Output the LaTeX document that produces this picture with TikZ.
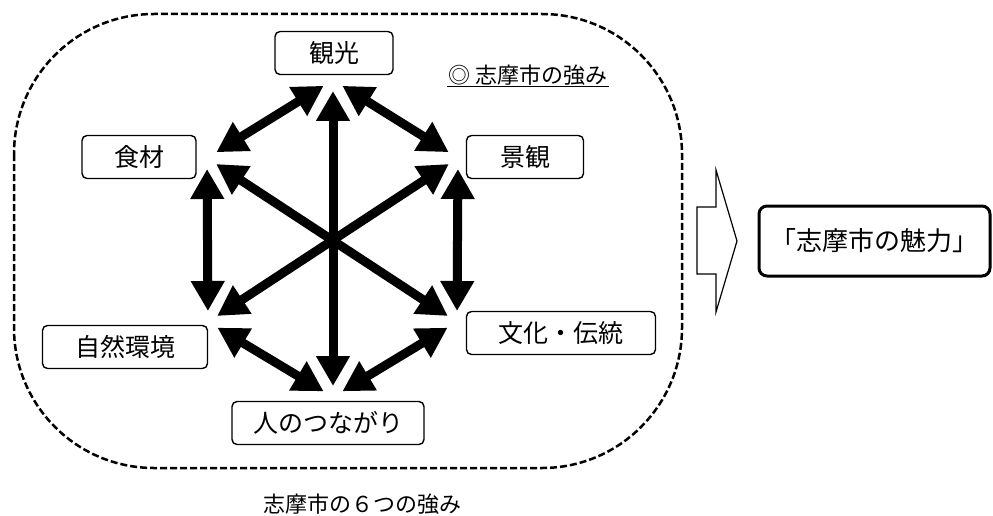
\documentclass[tikz,border=0pt]{standalone}
\usepackage{fontspec}
\setmainfont{Noto Sans CJK JP}
\usetikzlibrary{arrows.meta}
\begin{document}
\begin{tikzpicture}[x=1pt,y=-1pt,
  lbl/.style={draw, line width=1.4pt, rounded corners=5pt, font=\fontsize{25}{27}\selectfont, inner sep=0pt, minimum height=43pt},
  link/.style={line width=9pt, {Triangle[length=30pt,width=32pt]}-{Triangle[length=30pt,width=32pt]}, shorten <=11pt, shorten >=11pt},
  frame/.style={line width=2.5pt, dash pattern=on 7pt off 3pt, rounded corners=140pt},
  result/.style={draw, line width=3pt, rounded corners=8pt, font=\fontsize{26}{28}\selectfont, inner sep=0pt, minimum width=231pt, minimum height=70pt},
  blockarrow/.style={draw, line width=1.2pt, line join=miter}]
\useasboundingbox (0,0) rectangle (993,516);
% dashed frame
\draw[frame] (14,14) rectangle (682,468);
% labels
\node[lbl, minimum width=118pt] (kanko) at (334,53) {観光};
\node[lbl, minimum width=114pt] (shokuzai) at (139,157) {食材};
\node[lbl, minimum width=117pt] (keikan) at (525,157) {景観};
\node[lbl, minimum width=165pt] (shizen) at (125,347) {自然環境};
\node[lbl, minimum width=189pt] (bunka) at (561,333) {文化・伝統};
\node[lbl, minimum width=192pt] (hito) at (328,423) {人のつながり};
% title
\node[font=\fontsize{22}{24}\selectfont, inner sep=1pt] (title) at (528,75) {◎\ 志摩市の強み};
\draw[line width=1pt] (title.south west) -- (title.south east);
% hexagon vertices
\coordinate (T) at (333,80);
\coordinate (UL) at (207,158);
\coordinate (UR) at (458,158);
\coordinate (LL) at (208,322);
\coordinate (LR) at (457,322);
\coordinate (B) at (333,397);
% arrows
\draw[link] (T) -- (UL);
\draw[link] (T) -- (UR);
\draw[link] (UL) -- (LL);
\draw[link] (UR) -- (LR);
\draw[link] (LL) -- (B);
\draw[link] (LR) -- (B);
\draw[link] (T) -- (B);
\draw[link] (UL) -- (LR);
\draw[link] (UR) -- (LL);
% block arrow
\draw[blockarrow] (697,207) coordinate (ba1) -- (716,207) -- (716,170) -- (737,241) coordinate (batip) -- (716,312) -- (716,274) -- (697,274) -- cycle;
% result box
\node[result] (miryoku) at (874.5,241) {「志摩市の魅力」};
% caption
\node[font=\fontsize{22}{24}\selectfont, inner sep=0pt] (caption) at (362,504) {志摩市の６つの強み};
\end{tikzpicture}
\end{document}
